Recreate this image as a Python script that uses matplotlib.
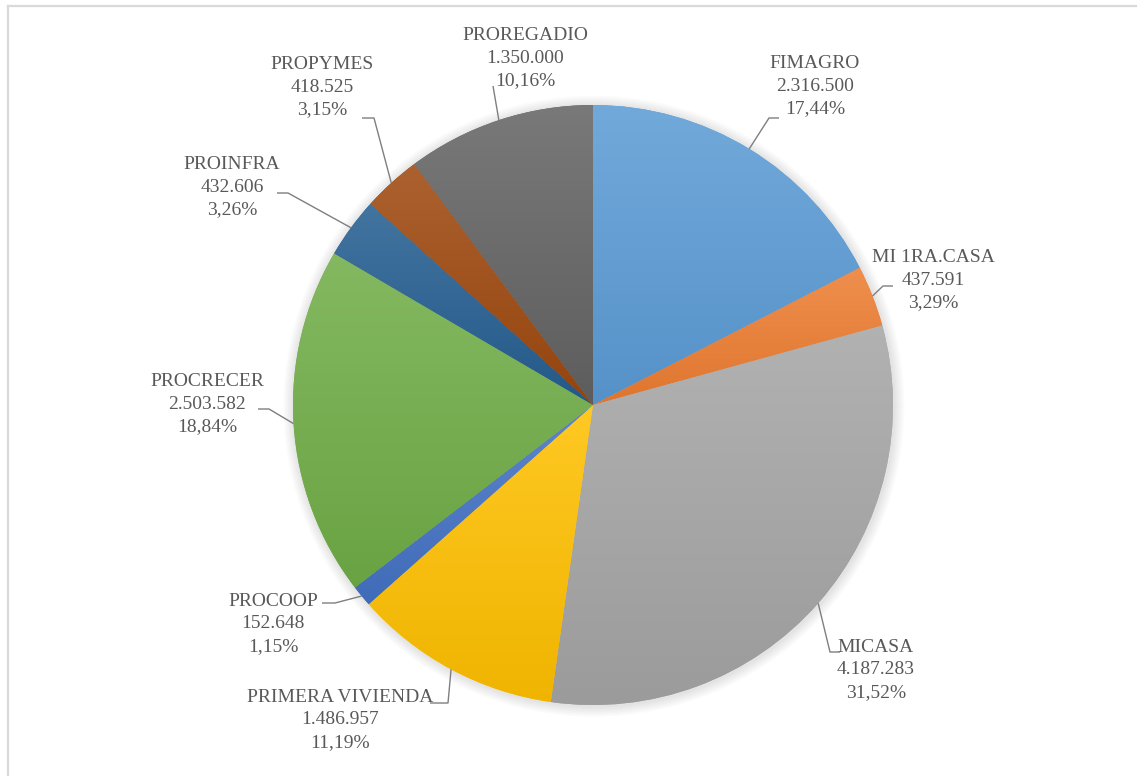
import matplotlib
matplotlib.use("Agg")
import matplotlib.pyplot as plt
import numpy as np
from matplotlib.colors import to_rgb
from matplotlib.patches import Circle

# ---------------- data ----------------
categories = ["FIMAGRO", "MI 1RA.CASA", "MICASA", "PRIMERA VIVIENDA", "PROCOOP",
              "PROCRECER", "PROINFRA", "PROPYMES", "PROREGADIO"]
values = [2316500, 437591, 4187283, 1486957, 152648, 2503582, 432606, 418525, 1350000]
colors = ["#5B9BD5", "#ED7D31", "#A5A5A5", "#FFC000", "#4472C4",
          "#70AD47", "#255E91", "#9E480E", "#636363"]

# ---------------- layout (pixels) ----------------
W, H = 1137, 776
CX, CY, R = 593, 405, 300          # pie centre and radius in pixels

# text centre, leader elbow, leader end (pixels)
label_layout = {
    "FIMAGRO":          ((815, 86),  (769, 118), (779, 118)),
    "MI 1RA.CASA":      ((933, 280), (883, 286), (893, 286)),
    "MICASA":           ((876, 670), (830, 652), (840, 652)),
    "PRIMERA VIVIENDA": ((340, 720), (448, 703), (430, 703)),
    "PROCOOP":          ((273, 624), (335, 603), (322, 603)),
    "PROCRECER":        ((207, 404), (269, 409), (258, 409)),
    "PROINFRA":         ((232, 187), (288, 193), (277, 193)),
    "PROPYMES":         ((322, 87),  (374, 118), (362, 118)),
    "PROREGADIO":       ((525, 58),  (493, 86),  (493, 86)),
}


def px(p):
    return ((p[0] - CX) / R, (CY - p[1]) / R)


def tint(c, f):
    r = np.array(to_rgb(c))
    return r + (1 - r) * f


def shade(c, f):
    return np.array(to_rgb(c)) * (1 - f)


fig = plt.figure(figsize=(W / 100, H / 100), dpi=100)
ax = fig.add_axes([0, 0, 1, 1])
ax.set_axis_off()

total = sum(values)

# soft shadow
for k in range(7):
    ax.add_patch(Circle((0.003, -0.004), 1.0 + 0.005 * (k + 1), color="black",
                        alpha=0.014, lw=0, zorder=0))

wedges, _ = ax.pie(values, colors=colors, startangle=90, counterclock=False,
                   radius=1.0, center=(0, 0),
                   wedgeprops=dict(linewidth=0, edgecolor="none"))

for w, c in zip(wedges, colors):
    w.set_zorder(1)
    bb = w.get_path().get_extents(w.get_patch_transform())
    top = tint(c, 0.14)
    bot = shade(c, 0.06)
    n = 200
    t = np.linspace(0, 1, n)[:, None, None]
    grad = top[None, None, :] * (1 - t) + bot[None, None, :] * t
    im = ax.imshow(grad, extent=(bb.x0, bb.x1, bb.y0, bb.y1), origin="upper",
                   interpolation="bilinear", zorder=2, aspect="auto")
    im.set_clip_path(w)

# labels & leaders
cum = 0.0
for cat, v in zip(categories, values):
    frac = v / total
    mid = np.deg2rad(90 - 360 * (cum + frac / 2))
    cum += frac
    edge = (np.cos(mid), np.sin(mid))
    tpos, elbow, end = label_layout[cat]
    e1, e2 = px(elbow), px(end)
    ax.plot([edge[0], e1[0], e2[0]], [edge[1], e1[1], e2[1]],
            color="#7F7F7F", lw=1.0, zorder=3, solid_capstyle="butt")
    num = f"{v:,}".replace(",", ".")
    pct = f"{frac * 100:.2f}".replace(".", ",") + "%"
    tx, ty = px(tpos)
    ax.text(tx, ty, f"{cat}\n{num}\n{pct}", ha="center", va="center",
            multialignment="center", fontsize=14, family="Liberation Serif",
            color="#595959", linespacing=1.42, zorder=4)

ax.set_aspect("equal")
ax.set_xlim(-CX / R, (W - CX) / R)
ax.set_ylim(-(H - CY) / R, CY / R)

# chart-area border (left & top visible)
fig.add_artist(plt.Line2D([8 / W, 8 / W], [0, 1 - 6 / H], transform=fig.transFigure,
                          color="#D9D9D9", lw=1.6))
fig.add_artist(plt.Line2D([8 / W, 1], [1 - 6 / H, 1 - 6 / H], transform=fig.transFigure,
                          color="#D9D9D9", lw=1.6))

fig.savefig("out.png", dpi=100, facecolor="white")
